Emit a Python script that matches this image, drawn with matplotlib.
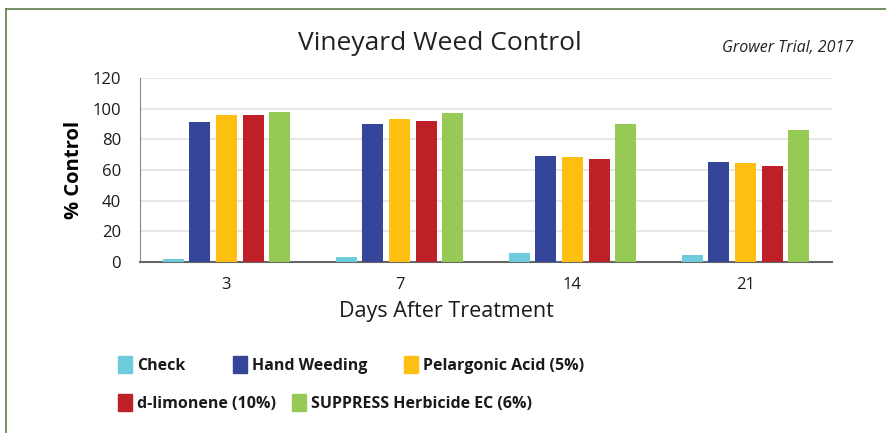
import numpy as np
import matplotlib.pyplot as plt
from matplotlib.patches import Rectangle
from matplotlib.lines import Line2D

days = ["3", "7", "14", "21"]
treatments = ["Check", "Hand Weeding", "Pelargonic Acid (5%)",
              "d-limonene (10%)", "SUPPRESS Herbicide EC (6%)"]
colors = ["#6ecbdb", "#34459a", "#fdc010", "#bf1f26", "#97c956"]

check = [1.7, 3.0, 5.7, 4.4]
hand_weeding = [91.6, 90.1, 69.2, 65.2]
pelargonic = [96.0, 93.4, 68.5, 64.6]
limonene = [95.8, 91.9, 67.4, 62.6]
suppress = [98.0, 97.3, 89.7, 86.0]
series = [check, hand_weeding, pelargonic, limonene, suppress]

W, H = 887, 433
fig = plt.figure(figsize=(W / 100, H / 100), dpi=100)
ax = fig.add_axes([140 / W, 1 - 262 / H, 692 / W, 184 / H])

x = np.arange(len(days))
step = 0.154
width = 0.121
for i, (vals, c) in enumerate(zip(series, colors)):
    ax.bar(x + (i - 2) * step, vals, width, color=c, zorder=3)

ax.set_xlim(-0.5, 3.5)
ax.set_ylim(0, 120)
ax.set_yticks(range(0, 121, 20))
ax.set_xticks(x)
ax.set_xticklabels(days)
ax.grid(axis="y", color="#e2e2e2", linewidth=1.2, zorder=0)
for s in ["top", "right"]:
    ax.spines[s].set_visible(False)
ax.spines["left"].set_color("#888888")
ax.spines["bottom"].set_color("#666666")
ax.spines["bottom"].set_linewidth(1.5)
ax.tick_params(length=0, labelsize=12, labelcolor="#1a1a1a")
ax.tick_params(axis="y", pad=13.5)
ax.tick_params(axis="x", pad=11)
for t in ax.get_yticklabels() + ax.get_xticklabels():
    t.set_fontfamily("Open Sans")

ax.set_ylabel("% Control", fontsize=14.5, fontweight="bold",
              family="Open Sans", labelpad=6)

fig.text(446 / W, 1 - 311 / H, "Days After Treatment", fontsize=15.5,
         family="Open Sans", ha="center", va="center", color="#1a1a1a")
fig.text(440 / W, 1 - 44 / H, "Vineyard Weed Control", fontsize=19,
         family="Open Sans", ha="center", va="center", color="#222222")
fig.text(853 / W, 1 - 48 / H, "Grower Trial, 2017", fontsize=11.5,
         family="Open Sans", style="italic", ha="right", va="center",
         color="#222222")

# legend laid out by hand
leg_pos = [(118, 356), (233, 356), (404, 356), (118, 394), (292, 394)]
for (lx, ly), name, c in zip(leg_pos, treatments, colors):
    fig.patches.append(Rectangle((lx / W, 1 - (ly + 17) / H), 14 / W, 17 / H,
                                 transform=fig.transFigure, color=c))
    fig.text((lx + 19) / W, 1 - (ly + 10) / H, name, fontsize=11.5,
             fontweight="bold", family="Open Sans", va="center",
             color="#1a1a1a")

# frame lines
fig.add_artist(Line2D([6 / W, 1], [1 - 9 / H, 1 - 9 / H], color="#5a7d4a",
                      linewidth=1.2, transform=fig.transFigure))
fig.add_artist(Line2D([6 / W, 6 / W], [0, 1 - 9 / H], color="#5a7d4a",
                      linewidth=1.2, transform=fig.transFigure))

fig.savefig("out.png", dpi=100)
